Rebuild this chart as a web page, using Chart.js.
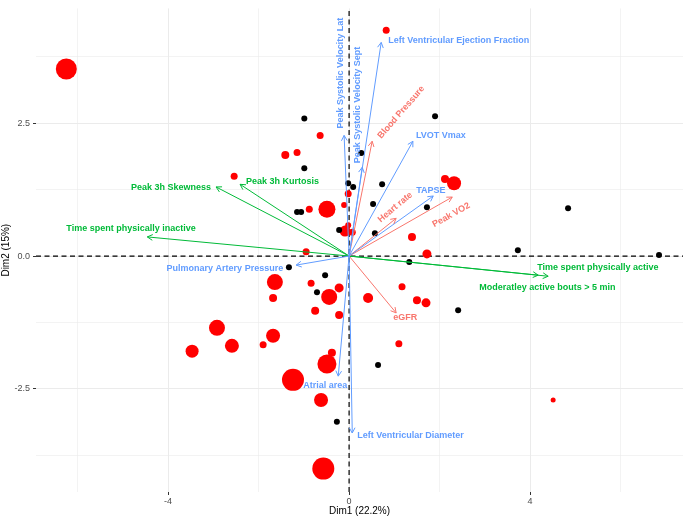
<!DOCTYPE html>
<html>
<head>
<meta charset="utf-8">
<script src="https://cdn.jsdelivr.net/npm/chart.js@4.4.1/dist/chart.umd.min.js"></script>
<style>
  html, body { margin: 0; padding: 0; background: #fff; }
  #wrap { width: 685px; height: 517px; }
</style>
</head>
<body>
<div id="wrap"><canvas id="myC" width="685" height="517"></canvas></div>
<script>
// individuals, group 1 (black)
const blackX = [-0.99, -0.99, 0.27, -0.02, 0.09, 0.73, 1.90, -1.15, -1.06, 0.53, 1.72, 4.84, -0.22, 0.57, 3.73, 6.85, 1.33, -1.33, -0.53, -0.71, 2.41, 0.64, -0.27];
const blackY = [2.59, 1.65, 1.94, 1.37, 1.30, 1.35, 2.63, 0.83, 0.83, 0.98, 0.92, 0.90, 0.49, 0.43, 0.11, 0.02, -0.11, -0.21, -0.36, -0.68, -1.02, -2.05, -3.12];

// individuals, group 2 (red), size is a third variable
const redX = [-6.25, 0.82, -0.64, -1.41, -1.15, -2.54, -0.02, -0.11, -0.88, -0.49, 2.12, 2.32, -0.02, -0.09, 0.07, 1.39, -0.95, 1.72, -1.64, -0.84, -0.22, -1.68, -0.44, 0.42, 1.17, 1.50, 1.70, -0.75, -0.22, -2.92, -1.68, -2.59, -1.90, -3.47, 1.10, -0.38, -0.49, -1.24, -0.62, 4.51, -0.57];
const redY = [3.52, 4.25, 2.27, 1.90, 1.95, 1.50, 1.17, 0.96, 0.88, 0.88, 1.45, 1.37, 0.58, 0.47, 0.45, 0.36, 0.08, 0.04, -0.49, -0.51, -0.60, -0.79, -0.77, -0.79, -0.58, -0.83, -0.88, -1.03, -1.11, -1.35, -1.50, -1.69, -1.67, -1.79, -1.65, -1.82, -2.03, -2.33, -2.71, -2.71, -4.00];
const redSize = [10.5, 3.5, 3.5, 4, 3.5, 3.5, 3.5, 3, 3.5, 8.5, 4, 7, 3, 5.5, 3.5, 4, 3.5, 4.5, 8, 3.5, 4.5, 4, 8, 5, 3.5, 4, 4.5, 4, 4, 8, 7, 7, 3.5, 6.5, 3.5, 4, 9.5, 11, 7, 2.5, 11];

// variables (loadings)
const varNames = [
  'Peak Systolic Velocity Lat', 'Peak Systolic Velocity Sept', 'Left Ventricular Ejection Fraction',
  'LVOT Vmax', 'TAPSE', 'Pulmonary Artery Pressure', 'Atrial area', 'Left Ventricular Diameter',
  'Blood Pressure', 'Heart rate', 'Peak VO2', 'eGFR',
  'Peak 3h Skewness', 'Peak 3h Kurtosis', 'Time spent physically inactive',
  'Time spent physically active', 'Moderatley active bouts > 5 min'
];
const varX = [-0.11, 0.29, 0.71, 1.41, 1.86, -1.17, -0.24, 0.07, 0.51, 1.04, 2.28, 1.04, -2.94, -2.41, -4.46, 4.40, 4.18];
const varY = [2.27, 1.67, 4.02, 2.16, 1.13, -0.17, -2.26, -3.33, 2.16, 0.71, 1.11, -1.07, 1.30, 1.35, 0.36, -0.38, -0.36];
const varGroup = ['echo', 'echo', 'echo', 'echo', 'echo', 'echo', 'echo', 'echo',
  'clinical', 'clinical', 'clinical', 'clinical',
  'activity', 'activity', 'activity', 'activity', 'activity'];

const groupColor = { echo: '#619CFF', clinical: '#F8766D', activity: '#00BA38' };

// label placement relative to arrow tip (px)
const labelPos = {
  'Peak Systolic Velocity Lat': { dx: -4, dy: -7, rot: -90, align: 'left' },
  'Peak Systolic Velocity Sept': { dx: -5, dy: -4, rot: -90, align: 'left' },
  'Left Ventricular Ejection Fraction': { dx: 7, dy: -2, rot: 0, align: 'left' },
  'LVOT Vmax': { dx: 3, dy: -6, rot: 0, align: 'left' },
  'TAPSE': { dx: -17, dy: -5, rot: 0, align: 'left' },
  'Pulmonary Artery Pressure': { dx: -13, dy: 3, rot: 0, align: 'right' },
  'Atrial area': { dx: -13, dy: 9, rot: 0, align: 'center' },
  'Left Ventricular Diameter': { dx: 5, dy: 3, rot: 0, align: 'left' },
  'Blood Pressure': { dx: 29, dy: -29, rot: -49, align: 'center' },
  'Heart rate': { dx: -1, dy: -11, rot: -40, align: 'center' },
  'Peak VO2': { dx: -1, dy: 18, rot: -29, align: 'center' },
  'eGFR': { dx: 9, dy: 5, rot: 0, align: 'center' },
  'Peak 3h Skewness': { dx: -5, dy: 1, rot: 0, align: 'right' },
  'Peak 3h Kurtosis': { dx: 6, dy: -3, rot: 0, align: 'left' },
  'Time spent physically inactive': { dx: -81, dy: -8, rot: 0, align: 'left' },
  'Time spent physically active': { dx: -11, dy: -9, rot: 0, align: 'left' },
  'Moderatley active bouts > 5 min': { dx: -59, dy: 12, rot: 0, align: 'left' }
};

const xMin = -6.92, xMax = 7.38, yMin = -4.44, yMax = 4.66;
const xTicks = [-6, -4, -2, 0, 2, 4, 6];
const yTicks = [-3.75, -2.5, -1.25, 0, 1.25, 2.5, 3.75];

const FONT = '"Liberation Sans", Arial, sans-serif';

const arrowSets = varNames.map((n, i) => ({
  label: n,
  data: [{ x: 0, y: 0 }, { x: varX[i], y: varY[i] }],
  showLine: true,
  borderColor: groupColor[varGroup[i]],
  borderWidth: 1,
  pointRadius: 0,
  order: 0
}));

const arrowPlugin = {
  id: 'arrows',
  afterDatasetsDraw(chart) {
    const { ctx, scales: { x, y } } = chart;
    const ox = x.getPixelForValue(0), oy = y.getPixelForValue(0);
    ctx.save();
    varNames.forEach((n, i) => {
      const tx = x.getPixelForValue(varX[i]), ty = y.getPixelForValue(varY[i]);
      const a = Math.atan2(ty - oy, tx - ox);
      const col = groupColor[varGroup[i]];
      ctx.strokeStyle = col;
      ctx.lineWidth = 1;
      ctx.beginPath();
      ctx.moveTo(tx - 6 * Math.cos(a - 0.5), ty - 6 * Math.sin(a - 0.5));
      ctx.lineTo(tx, ty);
      ctx.lineTo(tx - 6 * Math.cos(a + 0.5), ty - 6 * Math.sin(a + 0.5));
      ctx.stroke();

      const p = labelPos[n];
      ctx.save();
      ctx.translate(tx + p.dx, ty + p.dy);
      ctx.rotate(p.rot * Math.PI / 180);
      ctx.fillStyle = col;
      ctx.font = 'bold 9px ' + FONT;
      ctx.textAlign = p.align;
      ctx.textBaseline = 'middle';
      ctx.fillText(n, 0, 0);
      ctx.restore();
    });
    ctx.restore();
  }
};

const ctx = document.querySelector('#myC').getContext('2d');

new Chart(ctx, {
  type: 'scatter',
  data: {
    datasets: [
      ...arrowSets,
      {
        label: 'group 1',
        data: blackX.map((v, i) => ({ x: v, y: blackY[i] })),
        backgroundColor: '#000000',
        borderWidth: 0,
        pointRadius: 3,
        order: 1
      },
      {
        label: 'group 2',
        data: redX.map((v, i) => ({ x: v, y: redY[i] })),
        backgroundColor: '#FF0000',
        borderWidth: 0,
        pointRadius: redSize,
        order: 1
      },
      {
        label: 'h0',
        data: [{ x: xMin, y: 0 }, { x: xMax, y: 0 }],
        showLine: true,
        borderColor: '#000',
        borderWidth: 1.2,
        borderDash: [5, 3.5],
        pointRadius: 0,
        order: 2
      },
      {
        label: 'v0',
        data: [{ x: 0, y: yMin }, { x: 0, y: yMax }],
        showLine: true,
        borderColor: '#000',
        borderWidth: 1.2,
        borderDash: [5, 3.5],
        pointRadius: 0,
        order: 2
      }
    ]
  },
  options: {
    responsive: false,
    animation: false,
    layout: { autoPadding: false, padding: { top: 8, right: 2, left: 0, bottom: 0 } },
    scales: {
      x: {
        type: 'linear',
        min: xMin,
        max: xMax,
        afterBuildTicks: s => { s.ticks = xTicks.map(v => ({ value: v })); },
        afterFit: s => { s.height = 25; },
        border: { display: false },
        grid: {
          color: '#EBEBEB',
          lineWidth: c => (c.tick && c.tick.value % 4 === 0 ? 1 : 0.6),
          tickColor: c => (c.tick && c.tick.value % 4 === 0 ? '#333333' : 'rgba(0,0,0,0)'),
          tickLength: 3,
          drawTicks: true
        },
        ticks: {
          padding: 1,
          color: '#4D4D4D',
          font: { family: FONT, size: 9 },
          maxRotation: 0,
          autoSkip: false,
          callback: v => (v % 4 === 0 ? String(v) : '')
        },
        title: {
          display: true,
          text: 'Dim1 (22.2%)',
          color: '#000',
          font: { family: FONT, size: 10 },
          padding: 0
        }
      },
      y: {
        type: 'linear',
        min: yMin,
        max: yMax,
        afterBuildTicks: s => { s.ticks = yTicks.map(v => ({ value: v })); },
        afterFit: s => { s.width = 36; },
        border: { display: false },
        grid: {
          color: '#EBEBEB',
          lineWidth: c => (c.tick && c.tick.value % 2.5 === 0 ? 1 : 0.6),
          tickColor: c => (c.tick && c.tick.value % 2.5 === 0 ? '#333333' : 'rgba(0,0,0,0)'),
          tickLength: 3,
          drawTicks: true
        },
        ticks: {
          padding: 3,
          color: '#4D4D4D',
          font: { family: FONT, size: 9 },
          autoSkip: false,
          callback: v => (v % 2.5 === 0 ? v.toFixed(1) : '')
        },
        title: {
          display: true,
          text: 'Dim2 (15%)',
          color: '#000',
          font: { family: FONT, size: 10 },
          padding: 0
        }
      }
    },
    plugins: {
      legend: { display: false },
      tooltip: { enabled: false }
    }
  },
  plugins: [arrowPlugin]
});
</script>
</body>
</html>
